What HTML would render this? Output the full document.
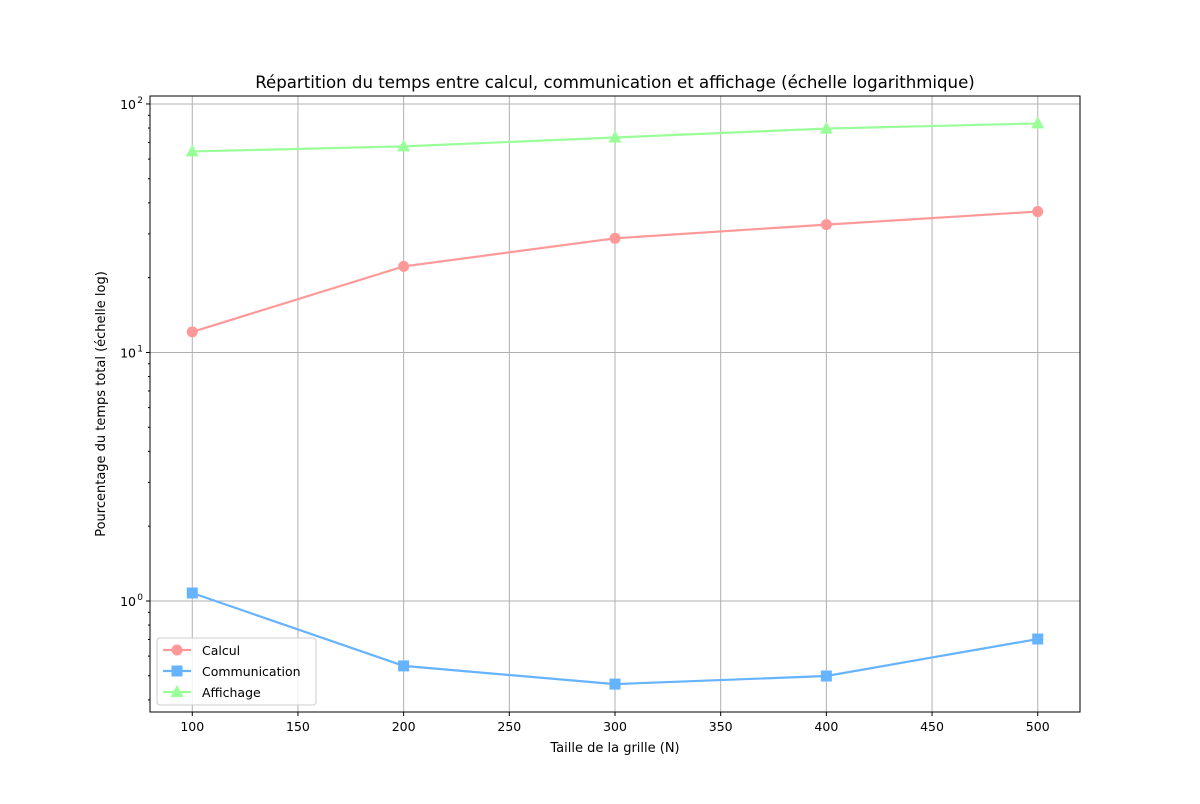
<!DOCTYPE html>
<html><head><meta charset="utf-8"><style>
body{margin:0;background:#fff;font-family:"DejaVu Sans","Liberation Sans",sans-serif;}
</style></head><body>
<svg id="chart" width="1200" height="800" viewBox="0 0 1200 800" xmlns="http://www.w3.org/2000/svg" font-family="DejaVu Sans, Liberation Sans, sans-serif">
<rect width="1200" height="800" fill="#fff"/>
<g id="grid"></g>
<g id="series"></g>
<rect x="150" y="96" width="930" height="616" fill="none" stroke="#000" stroke-width="1"/>
<g id="axes" font-size="12.5" fill="#000"></g>
<text x="615" y="88" text-anchor="middle" font-size="16.6">Répartition du temps entre calcul, communication et affichage (échelle logarithmique)</text>
<text x="615" y="752" text-anchor="middle" font-size="13">Taille de la grille (N)</text>
<text transform="translate(105,404) rotate(-90)" text-anchor="middle" font-size="13">Pourcentage du temps total (échelle log)</text>
<g id="legend"></g>
</svg>
<script>
const categories=[100,200,300,400,500];
const calcul=[12.1,22.2,28.8,32.7,36.9];
const communication=[1.077,0.548,0.463,0.499,0.703];
const affichage=[64.4,67.5,73.3,79.6,83.5];
const xTicks=[100,150,200,250,300,350,400,450,500];
const yTicks=[1,10,100];
const yTickExps=["0","1","2"];
const seriesNames=["Calcul","Communication","Affichage"];

const NS="http://www.w3.org/2000/svg";
const X0=150,X1=1080,Y0=96,Y1=712,xmin=80,xmax=520;
const lmin=-0.4467,lmax=2.032;
const xs=v=>X0+(v-xmin)/(xmax-xmin)*(X1-X0);
const ys=v=>Y1-(Math.log10(v)-lmin)/(lmax-lmin)*(Y1-Y0);
function mk(tag,attrs,parent){const e=document.createElementNS(NS,tag);for(const k in attrs)e.setAttribute(k,attrs[k]);parent.appendChild(e);return e;}
const grid=document.getElementById('grid'),axes=document.getElementById('axes'),ser=document.getElementById('series'),leg=document.getElementById('legend');
xTicks.forEach(t=>{const x=xs(t);
 const g=mk('line',{x1:x,x2:x,y1:Y0,y2:Y1,stroke:'#b0b0b0','stroke-width':1},grid);
 
 
 mk('line',{x1:x,x2:x,y1:Y1,y2:Y1+4,stroke:'#000'},axes);
 const l=mk('text',{x:x,y:Y1+19,'text-anchor':'middle'},axes);l.textContent=t;
 
 
});
yTicks.forEach((t,i)=>{const y=ys(t);
 const g=mk('line',{x1:X0,x2:X1,y1:y,y2:y,stroke:'#b0b0b0','stroke-width':1},grid);
 
 
 mk('line',{x1:X0-4,x2:X0,y1:y,y2:y,stroke:'#000'},axes);
 const l=mk('text',{x:X0-14,y:y+5,'text-anchor':'end'},axes);l.textContent='10';
 
 
 const s=mk('text',{x:X0-7,y:y-1,'text-anchor':'end','font-size':9},axes);s.textContent=yTickExps[i];
});
[0.1,1,10].forEach(d=>{for(let m=2;m<=9;m++){const v=d*m;const y=ys(v);if(y<Y0||y>Y1)continue;mk('line',{x1:X0-2,x2:X0,y1:y,y2:y,stroke:'#000'},axes);}});
const cols=['#ff9999','#66b3ff','#99ff99'];
const data=[calcul,communication,affichage];
const shapes=['circle','square','triangle'];
function marker(shape,x,y,c,p){
 if(shape==='circle')return mk('circle',{cx:x,cy:y,r:5.5,fill:c},p);
 if(shape==='square')return mk('rect',{x:x-5.5,y:y-5.5,width:11,height:11,fill:c},p);
 return mk('polygon',{points:`${x},${y-7} ${x-6.5},${y+5} ${x+6.5},${y+5}`,fill:c},p);
}
data.forEach((vals,si)=>{
 const pts=vals.map((v,i)=>xs(categories[i])+','+ys(v)).join(' ');
 const pl=mk('polyline',{points:pts,fill:'none',stroke:cols[si],'stroke-width':2.2},ser);
 
 
 vals.forEach((v,i)=>{const m=marker(shapes[si],xs(categories[i]),ys(v),cols[si],ser);
  
  });
});
const box=mk('rect',{x:157,y:638,width:159,height:67,rx:3,fill:'#fff',stroke:'#ccc','fill-opacity':0.8},leg);


seriesNames.forEach((n,i)=>{const y=650+i*21;
 const g=mk('g',{},leg);
 
 
 mk('line',{x1:163,x2:191,y1:y,y2:y,stroke:cols[i],'stroke-width':2.2},g);
 marker(shapes[i],177,y,cols[i],g);
 const t=mk('text',{x:202,y:y+5,'font-size':12.5},g);t.textContent=n;
});
</script>
</body></html>
